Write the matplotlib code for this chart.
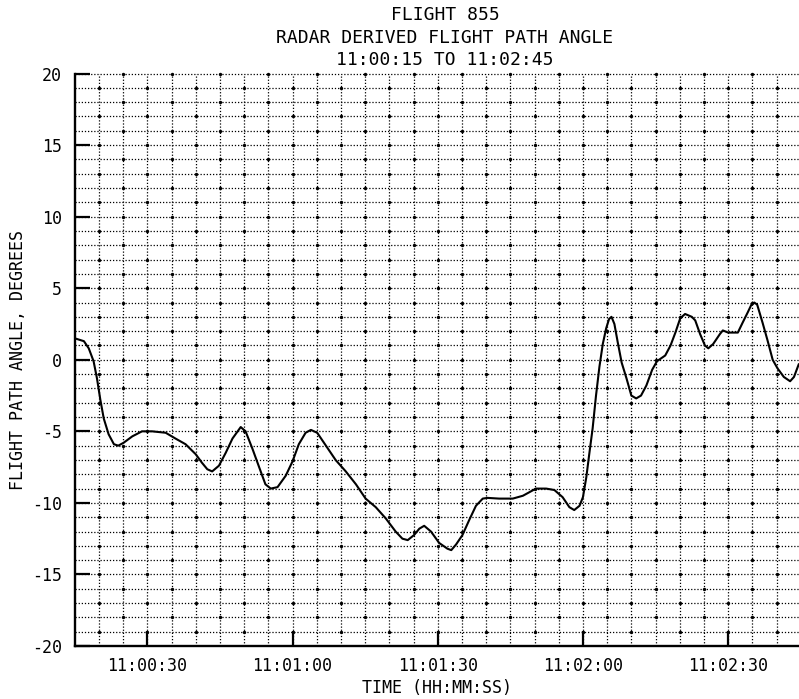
import matplotlib
matplotlib.use("Agg")
import matplotlib.pyplot as plt
import numpy as np

# ---- data (seconds after 11:00:00, flight path angle in degrees) ----
time_s = [15.0, 16.9, 17.9, 18.9, 19.6, 20.3, 21.0, 22.0, 23.1, 24.0,
          25.1, 26.9, 28.9, 31.0, 33.8, 35.8, 37.9, 40.0, 41.3, 42.4,
          43.4, 44.8, 46.2, 47.6, 49.3, 50.3, 51.7, 53.1, 54.4, 55.5,
          56.9, 58.6, 60.0, 61.3, 62.7, 63.8, 65.1, 66.9, 68.9, 71.0,
          73.1, 75.1, 77.2, 79.3, 81.3, 82.7, 83.8, 85.1, 86.2, 87.2,
          88.6, 90.3, 92.0, 92.8, 93.8, 95.1, 96.5, 97.9, 99.3, 100.3,
          102.7, 105.5, 107.6, 110.3, 112.4, 114.1, 115.8, 117.2, 118.2, 119.3,
          120.0, 120.7, 121.3, 122.0, 122.7, 123.4, 124.1, 124.8, 125.4, 125.9,
          126.5, 127.2, 128.0, 129.0, 130.0, 131.0, 132.0, 133.1, 134.3, 135.3,
          137.0, 138.1, 139.1, 140.1, 141.1, 142.5, 143.2, 144.2, 145.2, 145.9,
          146.9, 148.3, 148.9, 150.0, 152.0, 153.0, 154.1, 154.8, 155.4, 156.0,
          157.1, 158.1, 159.2, 160.2, 161.5, 162.8, 163.6, 164.6]
angle_deg = [1.5, 1.3, 0.8, -0.1, -1.3, -2.8, -4.1, -5.2, -5.9, -6.0,
             -5.8, -5.35, -5.0, -5.0, -5.1, -5.5, -5.9, -6.6, -7.2, -7.65,
             -7.8, -7.4, -6.5, -5.5, -4.7, -5.0, -6.2, -7.5, -8.7, -9.0,
             -8.9, -8.1, -7.1, -5.9, -5.1, -4.9, -5.1, -6.0, -7.0, -7.8,
             -8.7, -9.7, -10.3, -11.1, -12.0, -12.5, -12.6, -12.25, -11.8, -11.6,
             -12.0, -12.8, -13.2, -13.3, -12.9, -12.25, -11.2, -10.2, -9.7, -9.65,
             -9.7, -9.7, -9.5, -9.0, -9.0, -9.1, -9.6, -10.3, -10.5, -10.2,
             -9.6, -8.2, -6.6, -4.8, -2.5, -0.5, 1.1, 2.2, 2.85, 3.0,
             2.5, 1.2, -0.2, -1.3, -2.5, -2.7, -2.5, -1.8, -0.7, -0.1,
             0.3, 1.0, 1.9, 2.9, 3.2, 3.0, 2.75, 1.8, 1.0, 0.8,
             1.1, 1.8, 2.05, 1.9, 1.9, 2.6, 3.35, 3.85, 4.0, 3.85,
             2.6, 1.4, 0.0, -0.6, -1.2, -1.5, -1.2, -0.3]

x_tick_pos = [30, 60, 90, 120, 150]
x_tick_labels = ["11:00:30", "11:01:00", "11:01:30", "11:02:00", "11:02:30"]
y_tick_pos = [-20, -15, -10, -5, 0, 5, 10, 15, 20]
y_tick_labels = ["-20", "-15", "-10", "-5", "0", "5", "10", "15", "20"]

title_lines = ["FLIGHT 855", "RADAR DERIVED FLIGHT PATH ANGLE", "11:00:15 TO 11:02:45"]
x_label = "TIME (HH:MM:SS)"
y_label = "FLIGHT PATH ANGLE, DEGREES"

FONT = "DejaVu Sans Mono"
plt.rcParams["font.family"] = [FONT]

fig = plt.figure(figsize=(7.99, 6.99), dpi=100)
ax = fig.add_axes([0.0935, 0.0758, 0.9087, 0.819])
ax.set_xlim(15, 165)
ax.set_ylim(-20, 20)

grid_kw = dict(color="black", lw=0.9, linestyle=(0, (1, 1.5)), zorder=1, clip_on=False)
grid_x = np.arange(20, 166, 5)
grid_y = np.arange(-19, 21, 1)
for gx in grid_x:
    ax.axvline(gx, **grid_kw)
for gy in grid_y:
    ax.axhline(gy, **grid_kw)

# intersection dots (checkerboard)
dx, dy = [], []
for i, gx in enumerate(grid_x):
    for j, gy in enumerate(grid_y):
        if (i + j) % 2 == 0:
            dx.append(gx)
            dy.append(gy)
ax.scatter(dx, dy, s=6, color="black", zorder=2, clip_on=False, linewidths=0)

ax.plot(time_s, angle_deg, color="black", lw=1.5, zorder=3,
        solid_joinstyle="round", solid_capstyle="round")

for s in ["top", "right"]:
    ax.spines[s].set_visible(False)
for s in ["left", "bottom"]:
    ax.spines[s].set_linewidth(1.7)
    ax.spines[s].set_zorder(4)

ax.set_xticks(x_tick_pos)
ax.set_xticklabels(x_tick_labels)
ax.set_yticks(y_tick_pos)
ax.set_yticklabels(y_tick_labels)
ax.tick_params(axis="both", direction="in", length=11, width=1.6, labelsize=12, colors="black")
ax.tick_params(axis="y", pad=9)
ax.tick_params(axis="x", pad=8)

fig.text(0.0225, 0.485, y_label, rotation=90, ha="center", va="center", fontsize=12)
fig.text(0.547, 0.0157, x_label, ha="center", va="center", fontsize=12)

title_y = [0.9785, 0.9456, 0.9135]
for line, yy in zip(title_lines, title_y):
    fig.text(0.557, yy, line, ha="center", va="center", fontsize=13)

fig.savefig("out.png", dpi=100)
